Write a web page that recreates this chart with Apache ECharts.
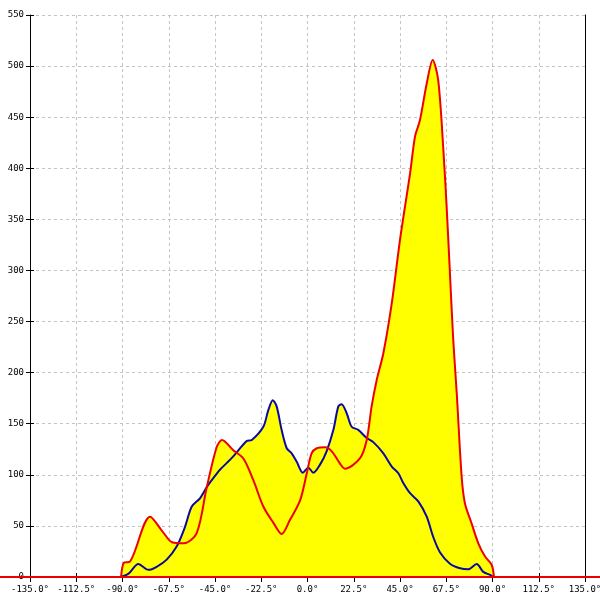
<!DOCTYPE html>
<html><head><meta charset="utf-8">
<script src="https://cdn.jsdelivr.net/npm/echarts@6/dist/echarts.min.js"></script>
<style>html,body{margin:0;padding:0;background:#fff}#c{width:600px;height:600px}</style>
</head><body><div id="c"></div>
<script>
const redAngles = [-90.7,-89.3,-86.4,-76.6,-70.3,-65.9,-60.1,-53.9,-49.0,-44.2,-41.6,-36.1,-31.2,-26.4,-21.5,-16.6,-12.6,-8.5,-3.6,-0.4,2.0,4.5,8.5,11.8,15.8,18.2,25.5,28.8,31.2,33.7,36.9,41.0,45.0,49.9,52.3,54.7,58.0,60.9,63.6,66.1,67.7,69.3,70.9,72.6,75.0,76.6,79.9,83.1,86.4,89.6,90.7];
const redValues = [0,14,15,59,44,34,33,43,88,127,134,124,116,95,69,53,42,56,75,101,121,126,127,123,111,106,116,134,167,193,219,268,330,395,431,447,483,506,486,418,362,297,232,180,98,72,52,33,20,12,0];
const blueAngles = [-91.2,-87.2,-82.3,-77.4,-73.4,-68.5,-63.6,-59.6,-56.3,-52.3,-49.0,-44.2,-42.6,-36.1,-29.6,-27.1,-21.5,-19.1,-16.9,-15.0,-12.6,-10.1,-7.7,-5.3,-2.3,0.4,2.8,6.1,9.3,12.6,15.0,16.6,19.1,21.5,24.7,28.8,32.0,36.9,41.0,44.2,46.6,49.9,53.9,58.0,61.2,64.5,69.3,74.2,78.2,82.3,85.5,88.8,90.4];
const blueValues = [0,3,12.7,7,10,17,30,49,69,77,88,101,105,118,133,134,147,163,173,167,144,126,121,113,102,107,102,110,123,144,167,169,160,147,144,136,132,121,108,101.5,92,82,74,59,39,24,13,8.5,7.5,12.7,5,2,0];
const baselineAngles = [-146, 146];
const baselineValues = [0, 0];
const xTicks = {min:-135, max:135, step:22.5};
const yTicks = {min:0, max:550, step:50};

const pairs = (a, v) => a.map((x, i) => [x, v[i]]);
const redData = pairs(redAngles, redValues);
const blueData = pairs(blueAngles, blueValues);
const baseData = pairs(baselineAngles, baselineValues);
const font = {fontFamily:'DejaVu Sans Mono', fontSize:9, color:'#000'};
const dash = {color:'#c4c4c4', type:[3,3]};

const chart = echarts.init(document.getElementById('c'), null, {renderer:'canvas'});
chart.setOption({
  animation:false,
  grid:[
    {left:30, right:15, top:15, bottom:23, outerBoundsMode:'none', containLabel:false},
    {left:0, right:0, top:15, bottom:23, outerBoundsMode:'none', containLabel:false}
  ],
  xAxis:[{
    type:'value', min:xTicks.min, max:xTicks.max, interval:xTicks.step, gridIndex:0,
    axisLine:{onZero:false, lineStyle:{color:'#000', width:1}},
    axisTick:{length:5, lineStyle:{color:'#000'}},
    axisLabel:Object.assign({margin:8, formatter:v=>v.toFixed(1)+'°'}, font),
    splitLine:{show:true, lineStyle:dash}
  },{
    type:'value', min:xTicks.min, max:xTicks.max, interval:xTicks.step, position:'bottom', gridIndex:0,
    axisLine:{show:false, onZero:false}, axisTick:{show:true, inside:true, length:4, lineStyle:{color:'#000'}},
    axisLabel:{show:false}, splitLine:{show:false}
  },{
    type:'value', min:baselineAngles[0], max:baselineAngles[1], gridIndex:1, show:false
  }],
  yAxis:[{
    type:'value', min:yTicks.min, max:yTicks.max, interval:yTicks.step, gridIndex:0,
    axisLine:{show:true, onZero:false, lineStyle:{color:'#000', width:1}},
    axisTick:{show:true, length:4, lineStyle:{color:'#000'}},
    axisLabel:Object.assign({margin:6}, font),
    splitLine:{show:true, lineStyle:dash}
  },{
    type:'value', min:yTicks.min, max:yTicks.max, interval:yTicks.step, position:'left', gridIndex:0,
    axisLine:{show:false, onZero:false}, axisTick:{show:true, inside:true, length:4, lineStyle:{color:'#000'}},
    axisLabel:{show:false}, splitLine:{show:false}
  },{
    type:'value', min:yTicks.min, max:yTicks.max, interval:yTicks.step, position:'right', gridIndex:0,
    axisLine:{show:true, onZero:false, lineStyle:{color:'#000', width:1}}, axisTick:{show:false},
    axisLabel:{show:false}, splitLine:{show:false}
  },{
    type:'value', min:yTicks.min, max:yTicks.max, gridIndex:1, show:false
  }],
  series:[
    {type:'line', data:blueData, smooth:0.3, symbol:'none', z:2,
      lineStyle:{width:0}, areaStyle:{color:'#ffff00', opacity:1}},
    {type:'line', data:redData, smooth:0.3, symbol:'none', z:2,
      lineStyle:{width:0}, areaStyle:{color:'#ffff00', opacity:1}},
    {type:'line', data:blueData, smooth:0.3, symbol:'none', z:4,
      lineStyle:{width:2, color:'#0a0aa0'}},
    {type:'line', data:baseData, xAxisIndex:2, yAxisIndex:3, symbol:'none', z:5, clip:false,
      lineStyle:{width:2, color:'#ee0000'}},
    {type:'line', data:redData, smooth:0.3, symbol:'none', z:5,
      lineStyle:{width:2, color:'#ee0000'}}
  ]
});
</script></body></html>
